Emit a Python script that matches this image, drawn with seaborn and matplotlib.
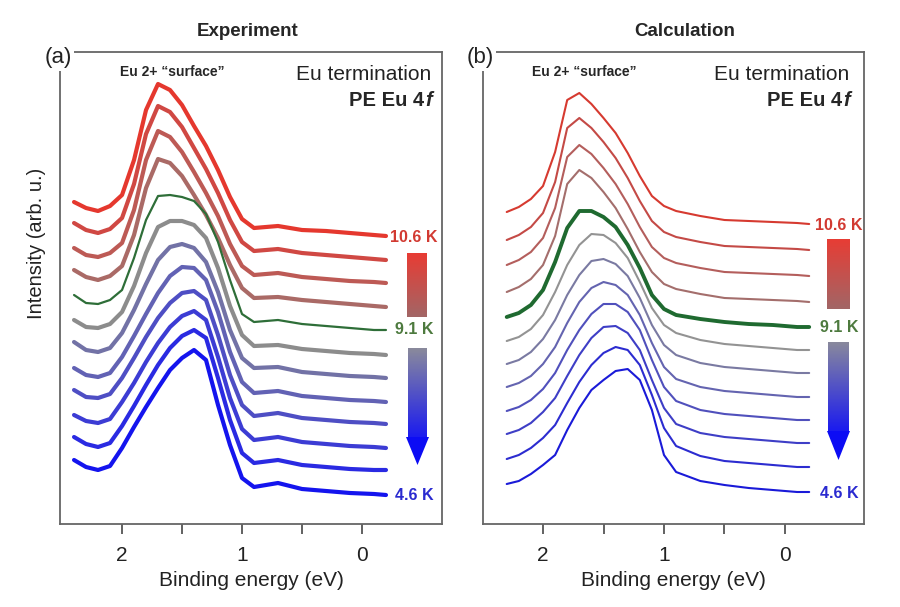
import numpy as np
import pandas as pd
import matplotlib.pyplot as plt
import seaborn as sns
from matplotlib.colors import LinearSegmentedColormap
from matplotlib.patches import Polygon

# binding energy grids [eV]
energy_exp = [2.4, 2.3, 2.2, 2.1, 2.0, 1.9, 1.8, 1.7, 1.6, 1.5, 1.4, 1.3, 1.2,
              1.1, 1.0, 0.9, 0.7, 0.5, 0.3, 0.1, -0.1, -0.2]
energy_calc = [2.3, 2.2, 2.1, 2.0, 1.9, 1.8, 1.7, 1.6, 1.5, 1.4, 1.3, 1.2,
               1.1, 1.0, 0.9, 0.7, 0.5, 0.3, 0.1, -0.1, -0.2]

# stacked PE Eu 4f spectra (arb. u., offsets included), 10.6 K at top -> 4.6 K at bottom
exp_spectra = [
    [322, 316, 313, 318, 329, 364, 414, 440, 434, 419, 398, 378, 354, 327, 305, 296, 298, 294, 293, 291, 289, 288],
    [301, 294, 291, 295, 306, 340, 390, 418, 412, 397, 376, 355, 331, 304, 282, 273, 275, 271, 269, 267, 265, 264],
    [276, 269, 267, 271, 281, 314, 364, 393, 387, 372, 352, 331, 308, 280, 258, 249, 251, 247, 245, 243, 242, 241],
    [254, 247, 244, 248, 258, 289, 336, 365, 361, 348, 329, 309, 286, 259, 236, 226, 227, 224, 222, 220, 218, 217],
    [229, 221, 220, 224, 234, 266, 304, 328, 329, 327, 323, 310, 282, 244, 210, 202, 204, 200, 198, 196, 194, 194],
    [204, 197, 196, 200, 212, 238, 271, 297, 303, 303, 299, 286, 256, 218, 189, 178, 179, 175, 173, 171, 170, 169],
    [182, 174, 172, 176, 191, 214, 240, 264, 277, 280, 276, 262, 232, 194, 166, 156, 157, 152, 150, 148, 147, 146],
    [156, 149, 147, 151, 167, 188, 210, 231, 248, 257, 256, 244, 212, 172, 142, 131, 133, 128, 126, 124, 123, 122],
    [134, 127, 126, 130, 146, 166, 187, 206, 221, 231, 233, 224, 189, 149, 119, 108, 111, 106, 104, 102, 101, 100],
    [109, 103, 101, 105, 122, 141, 162, 181, 197, 208, 213, 204, 167, 126, 95, 84, 87, 82, 80, 78, 77, 76],
    [87, 80, 77, 81, 98, 118, 139, 159, 176, 188, 194, 186, 146, 104, 71, 61, 64, 59, 57, 55, 54, 54],
    [64, 57, 54, 58, 76, 97, 117, 136, 154, 166, 174, 164, 119, 79, 46, 37, 41, 35, 33, 31, 30, 29],
]
calc_spectra = [
    [312, 317, 325, 338, 372, 424, 431, 420, 406, 391, 371, 348, 328, 318, 313, 308, 304, 303, 302, 301, 300],
    [284, 289, 297, 311, 342, 396, 406, 396, 382, 366, 346, 323, 303, 292, 287, 282, 278, 277, 276, 275, 274],
    [259, 264, 272, 286, 316, 367, 379, 370, 356, 340, 320, 297, 277, 266, 261, 256, 252, 251, 250, 249, 248],
    [232, 237, 245, 259, 288, 340, 354, 346, 332, 316, 295, 272, 252, 240, 235, 230, 226, 225, 224, 223, 222],
    [207, 211, 219, 234, 262, 296, 313, 313, 307, 297, 279, 256, 229, 215, 209, 205, 202, 200, 199, 197, 197],
    [183, 187, 195, 209, 232, 259, 279, 290, 289, 281, 266, 242, 216, 199, 191, 184, 180, 178, 176, 174, 174],
    [160, 164, 172, 185, 204, 229, 249, 263, 265, 260, 248, 226, 199, 179, 169, 161, 157, 155, 153, 151, 151],
    [137, 141, 148, 160, 177, 201, 222, 236, 242, 239, 229, 209, 181, 157, 145, 137, 133, 131, 129, 127, 127],
    [113, 117, 124, 135, 151, 174, 194, 210, 220, 220, 212, 194, 164, 137, 123, 114, 110, 108, 106, 104, 104],
    [90, 94, 101, 112, 126, 148, 169, 186, 197, 198, 191, 174, 144, 116, 100, 91, 87, 85, 83, 81, 81],
    [65, 69, 76, 86, 99, 121, 142, 159, 171, 177, 174, 159, 129, 96, 78, 68, 63, 61, 59, 57, 57],
    [40, 43, 50, 59, 69, 94, 116, 134, 144, 153, 155, 144, 114, 69, 52, 43, 39, 36, 34, 32, 32],
]
exp_colors = ['#e5382e', '#d04843', '#bd5a55', '#aa6a66', '#2e6e38', '#8c8c8c',
              '#7272a6', '#6262b4', '#4e4ec4', '#3c3cd4', '#2a2ae2', '#1414ee']
calc_colors = ['#d63a30', '#c44a46', '#b45e5c', '#a46e6c', '#1f6a30', '#939393',
               '#7a7aa2', '#6464b0', '#5050bc', '#3e3ec6', '#2c2cd0', '#1a1ad8']
temp_labels = ['10.6 K', '9.1 K', '4.6 K']
temp_colors = ['#d23a32', '#4d7a3e', '#2a2ad0']

sns.set_style("white")
plt.rcParams['font.family'] = ['Liberation Sans', 'DejaVu Sans']
plt.rcParams['lines.solid_joinstyle'] = 'round'
plt.rcParams['lines.solid_capstyle'] = 'round'

W, H = 900, 607
fig = plt.figure(figsize=(9, 6.07), dpi=100)
ax_exp = fig.add_axes([60 / W, 1 - 524 / H, 382 / W, 472 / H])
ax_calc = fig.add_axes([483 / W, 1 - 524 / H, 381 / W, 472 / H])


def to_frame(energy, spectra):
    rows = []
    for i, spec in enumerate(spectra):
        rows.append(pd.DataFrame({'energy': energy, 'intensity': spec, 'curve': i}))
    return pd.concat(rows, ignore_index=True)


df_exp = to_frame(energy_exp, exp_spectra)
df_calc = to_frame(energy_calc, calc_spectra)

# Experiment panel
for i, col in enumerate(exp_colors):
    sns.lineplot(data=df_exp[df_exp['curve'] == i], x='energy', y='intensity',
                 color=col, lw=1.6 if i == 4 else 3.0, ax=ax_exp)
# Calculation panel
for i, col in enumerate(calc_colors):
    sns.lineplot(data=df_calc[df_calc['curve'] == i], x='energy', y='intensity',
                 color=col, lw=2.8 if i == 4 else 1.5, ax=ax_calc)

for ax, xl in [(ax_exp, (2.517, -0.667)), (ax_calc, (2.496, -0.653))]:
    ax.set_xlim(*xl)
    ax.set_ylim(0, 472)
    ax.set_yticks([])
    ax.set_xticks([0, 0.5, 1, 1.5, 2])
    ax.set_xticklabels(['0', '', '1', '', '2'])
    ax.tick_params(axis='x', direction='out', length=7, width=1.3, color='#555555',
                   labelsize=15, pad=9, bottom=True, labelcolor='#222222')
    ax.set_xlabel('Binding energy (eV)', fontsize=15, labelpad=4, color='#222222')
    ax.set_ylabel('')
    for sp in ax.spines.values():
        sp.set_color('#666666')
        sp.set_linewidth(1.3)


def fx(px):
    return px / W


def fy(py):
    return 1 - py / H


# titles and annotations
fig.text(fx(248), fy(32), 'Experiment', ha='center', va='center', fontsize=13.5, fontweight='bold')
fig.text(fx(685), fy(32), 'Calculation', ha='center', va='center', fontsize=13.5, fontweight='bold')
for lab, x in [('(a)', 58), ('(b)', 480)]:
    fig.text(fx(x), fy(58), lab, ha='center', va='center', fontsize=16, zorder=10,
             color='#222222', bbox=dict(facecolor='white', edgecolor='none', pad=1.5))
fig.text(fx(37), fy(243), 'Intensity (arb. u.)', rotation=90, ha='center', va='center',
         fontsize=14.5, color='#222222')

for xs, xr in [(172, 431), (584, 849)]:
    fig.text(fx(xs), fy(72), 'Eu 2+ \u201csurface\u201d', ha='center', va='center',
             fontsize=10, fontweight='bold')
    fig.text(fx(xr), fy(75), 'Eu termination', ha='right', va='center', fontsize=15,
             color='#222222')
    t_f = fig.text(fx(xr + 1), fy(101), 'f', ha='right', va='center', fontsize=14.5,
                   fontweight='bold', style='italic')
    fig.canvas.draw()
    bb = t_f.get_window_extent()
    fig.text(fx(bb.x0 - 1), fy(101), 'PE Eu 4', ha='right', va='center', fontsize=14.5,
             fontweight='bold')

# temperature labels
for x, ys in [(414, (238, 330, 495)), (839, (225, 327, 494))]:
    for lab, col, y in zip(temp_labels, temp_colors, ys):
        fig.text(fx(x), fy(y), lab, ha='center', va='center', fontsize=11.5,
                 fontweight='bold', color=col)


# temperature gradient bars with arrow
def grad_bar(x0, x1, y0, y1, c_top, c_bot):
    bar = fig.add_axes([fx(x0), fy(y1), (x1 - x0) / W, (y1 - y0) / H])
    cmap = LinearSegmentedColormap.from_list('g', [c_top, c_bot])
    bar.imshow(np.linspace(0, 1, 100).reshape(-1, 1), aspect='auto', cmap=cmap)
    bar.axis('off')


grad_bar(407, 427, 253, 317, '#e83c34', '#a26666')
grad_bar(408, 427, 348, 438, '#8a8a9c', '#1a1af0')
fig.add_artist(Polygon([(fx(406), fy(437)), (fx(429), fy(437)), (fx(417.5), fy(465))],
                       closed=True, transform=fig.transFigure, facecolor='#0c0cf4',
                       edgecolor='none'))
grad_bar(827, 850, 239, 309, '#e83c34', '#a26666')
grad_bar(828, 849, 342, 432, '#8a8a9c', '#1a1af0')
fig.add_artist(Polygon([(fx(827), fy(431)), (fx(850), fy(431)), (fx(838.5), fy(460))],
                       closed=True, transform=fig.transFigure, facecolor='#0c0cf4',
                       edgecolor='none'))

fig.savefig('out.png', dpi=100)
